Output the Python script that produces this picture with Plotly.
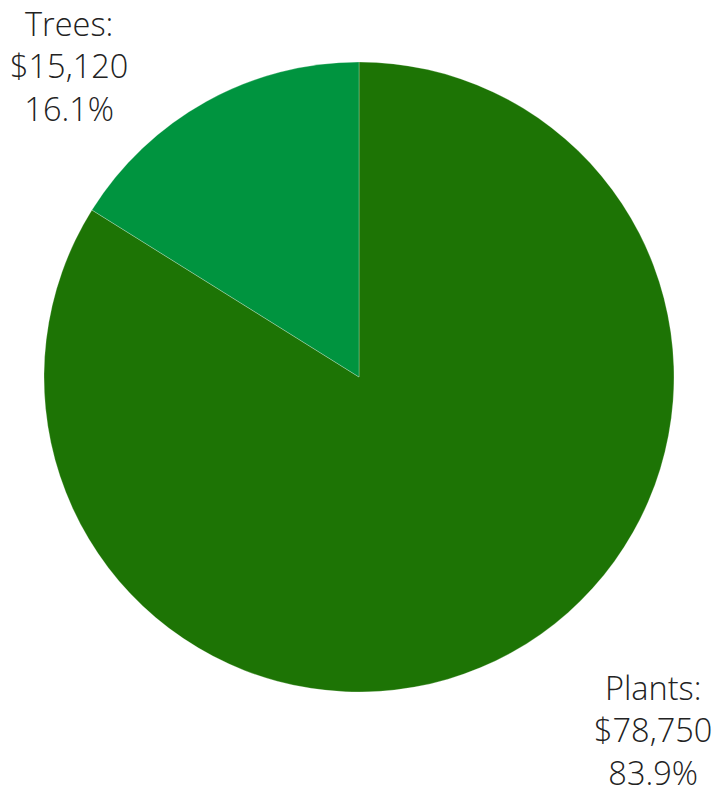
import plotly.graph_objects as go

labels = ["Plants", "Trees"]
values = [78750, 15120]
colors = ["#1D7405", "#00943F"]

total = sum(values)
texts = {l: f"{l}:<br>${v:,}<br>{v / total * 100:.1f}%" for l, v in zip(labels, values)}

fig = go.Figure(go.Pie(
    labels=labels,
    values=values,
    textinfo="none",
    sort=False,
    direction="clockwise",
    rotation=0,
    marker=dict(colors=colors, line=dict(color="rgba(255,255,255,0.5)", width=0.5)),
    showlegend=False,
    hoverinfo="none",
))

label_font = dict(family="Open Sans", size=32.5, color="#222222", weight=300)
fig.add_annotation(text=texts["Trees"], xref="paper", yref="paper", x=0.039, y=0.993,
                   xanchor="center", yanchor="middle", showarrow=False, font=label_font,
                   borderpad=0)
fig.add_annotation(text=texts["Plants"], xref="paper", yref="paper", x=0.966, y=-0.060,
                   xanchor="center", yanchor="middle", showarrow=False, font=label_font,
                   borderpad=0)

fig.update_layout(
    width=712, height=794,
    margin=dict(l=44, r=38, t=62, b=102),
    paper_bgcolor="white",
    plot_bgcolor="white",
)
fig.write_html("out.html")
